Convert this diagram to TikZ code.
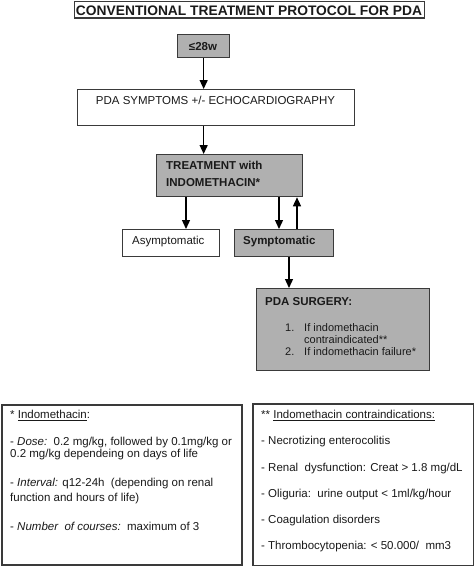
\documentclass[tikz,border=0pt]{standalone}
\usepackage{fontspec}
\setmainfont{Liberation Sans}
\usetikzlibrary{arrows.meta}
\definecolor{boxgray}{HTML}{B0B0B0}
\definecolor{edgegray}{HTML}{3A3A3A}
\definecolor{inkc}{HTML}{1A1A1A}
\begin{document}
\begin{tikzpicture}[x=1pt,y=-1pt,
  box/.style={draw=edgegray,line width=1.3pt,rectangle,inner sep=0pt,anchor=north west},
  gbox/.style={box,fill=boxgray},
  txt/.style={inner sep=0pt,anchor=base west,text=inkc,font=\fontsize{11.5pt}{13pt}\selectfont},
  ctxt/.style={txt,anchor=base},
  btxt/.style={txt,font=\fontsize{11.5pt}{13pt}\selectfont\bfseries},
  stxt/.style={txt,font=\fontsize{11pt}{13pt}\selectfont},
  ntxt/.style={txt,font=\fontsize{11.5pt}{13pt}\selectfont},
  arr/.style={draw=black,line width=1.3pt,-{Triangle[length=9pt,width=8pt]}}
]
\useasboundingbox (0,0) rectangle (474,566);
\fill[white] (0,0) rectangle (474,566);

% title
\node[box,minimum width=350pt,minimum height=16.8pt] (title) at (74,0.5) {};
\node[ctxt,font=\fontsize{13.8pt}{15pt}\selectfont\bfseries] (titletxt) at (249,15) {CONVENTIONAL TREATMENT PROTOCOL FOR PDA};

% boxes
\node[gbox,minimum width=52pt,minimum height=23pt] (w28) at (177,34) {};
\node[ctxt,font=\fontsize{11.5pt}{13pt}\selectfont\bfseries] (w28t) at (203,50) {≤28w};

\node[box,minimum width=277pt,minimum height=36pt] (symp) at (77,89) {};
\node[ctxt] (sympt) at (215.5,104.5) {PDA SYMPTOMS +/- ECHOCARDIOGRAPHY};

\node[gbox,minimum width=146pt,minimum height=42pt] (treat) at (156,154) {};
\node[btxt] (treat1) at (166,169) {TREATMENT with};
\node[btxt] (treat2) at (166,186.5) {INDOMETHACIN*};

\node[box,minimum width=97pt,minimum height=27pt] (asym) at (122,229) {};
\node[txt] (asymt) at (132,244.5) {Asymptomatic};

\node[gbox,minimum width=99pt,minimum height=27pt] (sym) at (234,229) {};
\node[btxt] (symt) at (243,244.5) {Symptomatic};

\node[gbox,minimum width=173pt,minimum height=82pt] (surg) at (256,288) {};
\node[btxt] (surgt) at (265,305) {PDA SURGERY:};
\node[stxt] (s1n) at (285,331.5) {1.};
\node[stxt] (s1a) at (304,331.5) {If indomethacin};
\node[stxt] (s1b) at (304,343.5) {contraindicated**};
\node[stxt] (s2n) at (285,355.5) {2.};
\node[stxt] (s2a) at (304,355.5) {If indomethacin failure*};

% arrows
\draw[arr] (w28.south) -- (w28.south |- symp.north);
\draw[arr] (w28.south |- symp.south) -- (w28.south |- treat.north);
\draw[arr] ([xshift=30pt]treat.south west) -- ([xshift=30pt]treat.south west |- asym.north);
\draw[arr] ([xshift=123pt]treat.south west) -- ([xshift=123pt]treat.south west |- sym.north);
\draw[arr] ([xshift=63pt]sym.north west) -- ([xshift=63pt]sym.north west |- treat.south);
\draw[arr] ([xshift=55pt]sym.south west) -- ([xshift=55pt]sym.south west |- surg.north);

% bottom notes
\node[box,line width=1.5pt,minimum width=240pt,minimum height=160pt] (noteL) at (1,404) {};
\node[ntxt] (l1) at (10,418.3) {* \underline{Indomethacin}:};
\node[ntxt] (l2) at (10,445) {- \textit{Dose:}\ \ 0.2\ mg/kg, followed by 0.1mg/kg or};
\node[ntxt] (l3) at (10,457.7) {0.2 mg/kg dependeing on days of life};
\node[ntxt] (l4) at (10,486) {- \textit{Interval:} q12-24h\ \ (depending on renal};
\node[ntxt] (l5) at (10,501) {function and hours of life)};
\node[ntxt] (l6) at (10,530) {- \textit{Number\ \ of courses:}\ \ maximum of 3};

\node[box,line width=1.5pt,minimum width=221pt,minimum height=162pt] (noteR) at (252,403) {};
\node[ntxt] (r1) at (261,418.3) {** \underline{Indomethacin contraindications:}};
\node[ntxt] (r2) at (261,444.5) {- Necrotizing enterocolitis};
\node[ntxt] (r3) at (261,471.5) {- Renal\ \ dysfunction: Creat > 1.8 mg/dL};
\node[ntxt] (r4) at (261,497.5) {- Oliguria:\ \ urine output < 1ml/kg/hour};
\node[ntxt] (r5) at (261,523.3) {- Coagulation disorders};
\node[ntxt] (r6) at (261,549.3) {- Thrombocytopenia: < 50.000/\ \ mm3};
\end{tikzpicture}
\end{document}
